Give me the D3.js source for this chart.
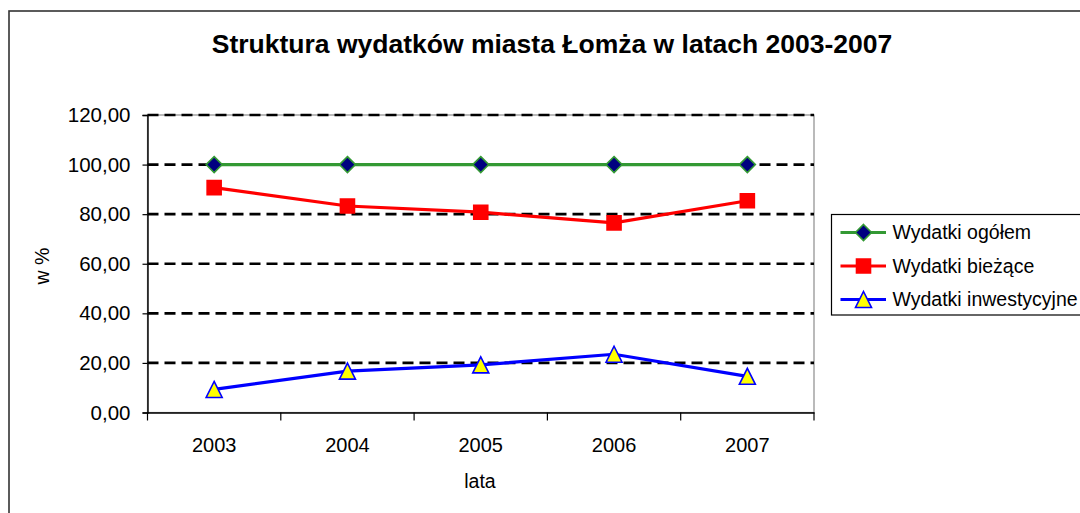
<!DOCTYPE html>
<html>
<head>
<meta charset="utf-8">
<script src="https://cdn.jsdelivr.net/npm/d3@7"></script>
<style>
  html, body { margin: 0; padding: 0; background: #fff; }
  svg { display: block; font-family: "Liberation Sans", Arial, sans-serif; }
</style>
</head>
<body>
<svg width="1080" height="513"></svg>
<script>
"use strict";

// chart values
var years = ["2003", "2004", "2005", "2006", "2007"];
var ogolem = [100, 100, 100, 100, 100];
var biezace = [90.7, 83.3, 80.8, 76.5, 85.4];
var inwestycyjne = [9.3, 16.7, 19.2, 23.5, 14.6];
var yTicks = [0, 20, 40, 60, 80, 100, 120];
var seriesNames = ["Wydatki ogółem", "Wydatki bieżące", "Wydatki inwestycyjne"];

var svg = d3.select("svg");

// outer chart frame (runs off the right / bottom edge)
svg.append("rect").attr("x", 9).attr("y", 11).attr("width", 1090).attr("height", 520)
    .attr("fill", "#fff").attr("stroke", "#333").attr("stroke-width", 1.6);

var plotLeft = 147.5, plotRight = 814, plotTop = 115, plotBottom = 412.5;

var x = d3.scaleBand().domain(years).range([plotLeft, plotRight]);
var y = d3.scaleLinear().domain([0, 120]).range([plotBottom, plotTop]);
var fmt = function(d){ return d3.format(".2f")(d).replace(".", ","); };

// plot area border (grey)
svg.append("rect").attr("x", plotLeft).attr("y", plotTop)
    .attr("width", plotRight - plotLeft).attr("height", plotBottom - plotTop)
    .attr("fill", "none").attr("stroke", "#8c8c8c").attr("stroke-width", 1.2);

// dashed gridlines
svg.append("g").selectAll("line")
    .data(yTicks.filter(function(d){ return d > 0; }))
    .enter().append("line")
    .attr("x1", plotLeft).attr("x2", plotRight)
    .attr("y1", function(d){ return y(d); }).attr("y2", function(d){ return y(d); })
    .attr("stroke", "#000").attr("stroke-width", 2.6).attr("stroke-dasharray", "11,6");

// y axis
var yAxis = svg.append("g").attr("transform", "translate(" + plotLeft + ",0)")
    .call(d3.axisLeft(y).tickValues(yTicks).tickFormat(fmt).tickSize(5).tickPadding(12));
yAxis.select(".domain").attr("stroke", "#000").attr("stroke-width", 1.4);
yAxis.selectAll(".tick line").attr("stroke", "#000").attr("stroke-width", 1.2);
yAxis.selectAll("text").attr("font-size", 20.5).attr("fill", "#000")
    .attr("font-family", "Liberation Sans, Arial, sans-serif");

// x axis, ticks between categories
var xAxis = svg.append("g").attr("transform", "translate(0," + plotBottom + ")")
    .call(d3.axisBottom(x).tickSize(0).tickPadding(25.5));
xAxis.select(".domain").attr("stroke", "#000").attr("stroke-width", 1.4);
xAxis.selectAll("text").attr("font-size", 20).attr("fill", "#000")
    .attr("font-family", "Liberation Sans, Arial, sans-serif");
xAxis.selectAll(".sep").data(d3.range(years.length + 1)).enter().append("line")
    .attr("x1", function(i){ return plotLeft + i * x.step(); })
    .attr("x2", function(i){ return plotLeft + i * x.step(); })
    .attr("y1", 0).attr("y2", 8).attr("stroke", "#000").attr("stroke-width", 1.2);

// titles
svg.append("text").attr("x", 552).attr("y", 53).attr("text-anchor", "middle")
    .attr("font-size", 26.5).attr("font-weight", "bold")
    .text("Struktura wydatków miasta Łomża w latach 2003-2007");
svg.append("text").attr("x", 480).attr("y", 488).attr("text-anchor", "middle")
    .attr("font-size", 19.5).text("lata");
svg.append("text").attr("transform", "translate(49,266) rotate(-90)").attr("text-anchor", "middle")
    .attr("font-size", 19.5).text("w %");

// marker shapes
var diamond = { draw: function(c, s){ var r = Math.sqrt(s) / 2; c.moveTo(0, -r); c.lineTo(r, 0); c.lineTo(0, r); c.lineTo(-r, 0); c.closePath(); } };
var square = { draw: function(c, s){ var r = Math.sqrt(s) / 2; c.rect(-r, -r, 2 * r, 2 * r); } };
var triangle = { draw: function(c, s){ var r = Math.sqrt(s) / 2; c.moveTo(0, -r); c.lineTo(r, r); c.lineTo(-r, r); c.closePath(); } };

var series = [
  { name: seriesNames[0], values: ogolem, color: "#339933", shape: diamond, size: 16 * 16, fill: "#000080", stroke: "#339933" },
  { name: seriesNames[1], values: biezace, color: "#ff0000", shape: square, size: 14 * 14, fill: "#ff0000", stroke: "#ff0000" },
  { name: seriesNames[2], values: inwestycyjne, color: "#0000ff", shape: triangle, size: 16 * 16, fill: "#ffff00", stroke: "#0000ff" }
];

var line = d3.line()
    .x(function(d, i){ return x(years[i]) + x.bandwidth() / 2; })
    .y(function(d){ return y(d); });

series.forEach(function(s){
    svg.append("path").datum(s.values).attr("d", line)
        .attr("fill", "none").attr("stroke", s.color).attr("stroke-width", 3.2);
    svg.append("g").selectAll("path").data(s.values).enter().append("path")
        .attr("d", d3.symbol().type(s.shape).size(s.size))
        .attr("transform", function(d, i){ return "translate(" + (x(years[i]) + x.bandwidth() / 2) + "," + y(d) + ")"; })
        .attr("fill", s.fill).attr("stroke", s.stroke).attr("stroke-width", 1.6);
});

// legend
var legend = svg.append("g");
legend.append("rect").attr("x", 831.5).attr("y", 214.5).attr("width", 260).attr("height", 100.5)
    .attr("fill", "#fff").attr("stroke", "#000").attr("stroke-width", 1.2);
var rows = legend.selectAll(".row").data(series).enter().append("g")
    .attr("transform", function(d, i){ return "translate(0," + (232.5 + i * 33.5) + ")"; });
rows.append("line").attr("x1", 840.5).attr("x2", 886).attr("y1", 0).attr("y2", 0)
    .attr("stroke", function(d){ return d.color; }).attr("stroke-width", 3.2);
rows.append("path")
    .attr("d", function(d){ return d3.symbol().type(d.shape).size(d.size)(); })
    .attr("transform", "translate(863.5,0)")
    .attr("fill", function(d){ return d.fill; }).attr("stroke", function(d){ return d.stroke; })
    .attr("stroke-width", 1.6);
rows.append("text").attr("x", 892.5).attr("y", 6.5).attr("font-size", 19.5)
    .text(function(d){ return d.name; });
</script>
</body>
</html>
